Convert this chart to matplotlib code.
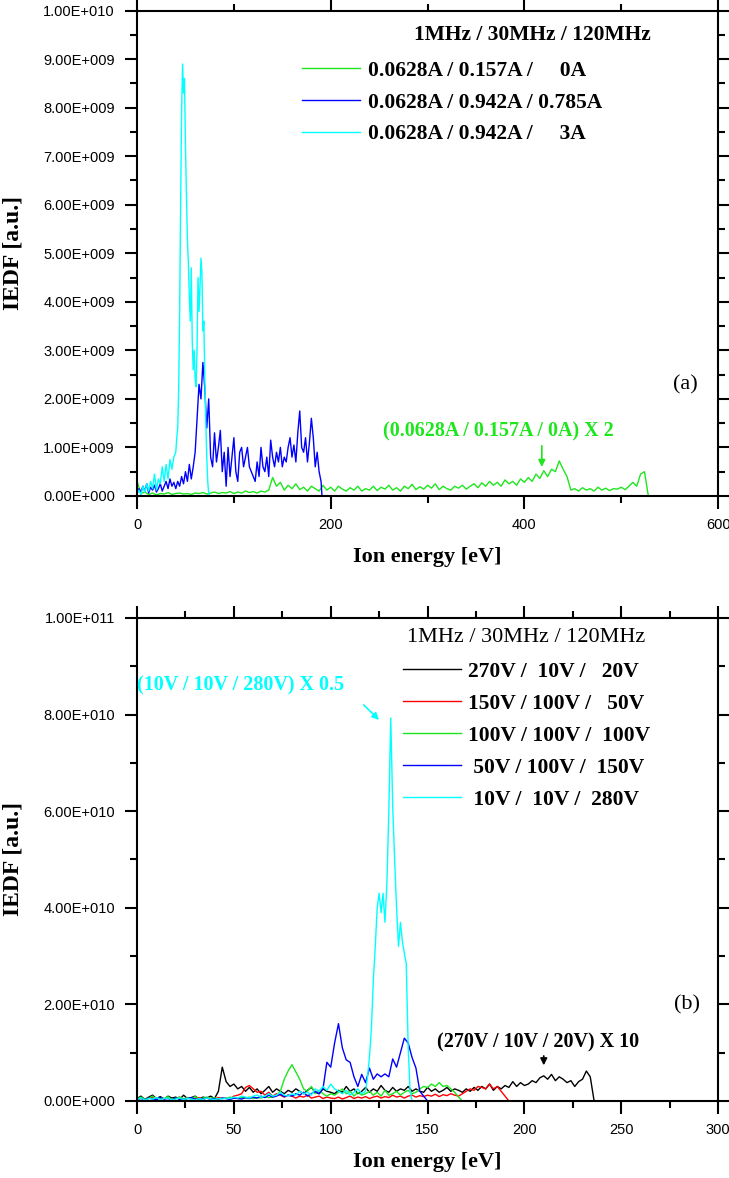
import numpy as np
import matplotlib.pyplot as plt
from matplotlib.ticker import MultipleLocator, FuncFormatter

# ---------------- panel (a): values in units of 1e9 ----------------
E_a_cian = [0, 2, 4, 6, 8, 10, 12, 14, 16, 18, 20, 22, 24, 26, 28, 30, 32, 34, 36, 38,
            40, 41, 42, 43, 44, 45, 46, 47, 48, 49, 50, 51, 52, 53, 54, 55, 56, 57, 58, 59,
            60, 61, 62, 63, 64, 65, 66, 67, 68, 69, 70, 71, 72, 73, 74, 75, 600]
V_a_cian = [0.05, 0.12, 0.02, 0.2, 0.08, 0.25, 0.1, 0.3, 0.15, 0.45, 0.12, 0.35, 0.25, 0.6, 0.3, 0.65, 0.35, 0.75, 0.55, 0.8,
            0.9, 1.2, 1.4, 2.2, 3.8, 6.0, 7.9, 8.9, 8.3, 8.6, 7.2, 6.2, 5.3, 4.8, 4.1, 3.6, 4.7, 3.2, 2.6, 3.0,
            2.4, 2.25, 3.1, 4.5, 3.8, 4.3, 4.9, 4.6, 3.4, 3.6, 2.4, 1.5, 0.8, 0.3, 0.05, 0.0, 0.0]

E_a_azul = [0, 2, 4, 6, 8, 10, 12, 14, 16, 18, 20, 22, 24, 26, 28, 30, 32, 34, 36, 38,
            40, 42, 44, 46, 48, 50, 52, 54, 56, 58, 60, 62, 64, 66, 68, 70, 72, 74, 76, 78,
            80, 82, 84, 86, 88, 90, 92, 94, 96, 98, 100, 102, 104, 106, 108, 110, 112, 114, 116, 118,
            120, 122, 124, 126, 128, 130, 132, 134, 136, 138, 140, 142, 144, 146, 148, 150, 152, 154, 156, 158,
            160, 162, 164, 166, 168, 170, 172, 174, 176, 178, 180, 182, 184, 186, 188, 190, 191]
V_a_azul = [0.05, 0.15, 0.08, 0.2, 0.1, 0.25, 0.06, 0.18, 0.12, 0.22, 0.08, 0.15, 0.25, 0.1, 0.2, 0.3, 0.15, 0.35, 0.2, 0.28,
            0.15, 0.3, 0.2, 0.4, 0.25, 0.5, 0.3, 0.65, 0.35, 0.6, 0.9, 1.6, 2.3, 2.0, 2.75, 2.2, 1.4, 2.0, 0.8, 0.6,
            1.3, 0.7, 1.0, 1.35, 0.5, 0.9, 0.2, 1.0, 0.4, 0.8, 1.2, 0.5, 0.3, 0.9, 1.0, 0.6, 0.8, 1.0, 0.6, 0.5,
            0.4, 0.3, 0.7, 0.4, 1.0, 0.6, 0.5, 0.8, 0.4, 1.15, 0.8, 0.6, 0.9, 0.7, 1.0, 0.6, 0.8, 0.7, 1.0, 1.2,
            0.8, 1.05, 0.7, 1.3, 1.75, 1.0, 0.9, 1.2, 0.7, 1.1, 1.6, 1.2, 0.6, 0.9, 0.5, 0.3, 0.0]

# canal de 4 eV
V_a_verde = [0.3, 0.05, 0.08, 0.03, 0.06, 0.02, 0.05, 0.04, 0.07, 0.03, 0.05, 0.06, 0.04, 0.05, 0.03, 0.06, 0.05, 0.07, 0.04, 0.06,
             0.08, 0.05, 0.07, 0.06, 0.09, 0.05, 0.08, 0.06, 0.1, 0.07, 0.09, 0.06, 0.1, 0.08, 0.12, 0.38, 0.2, 0.28, 0.12, 0.22,
             0.15, 0.25, 0.13, 0.18, 0.1, 0.2, 0.15, 0.1, 0.22, 0.12, 0.18, 0.1, 0.2, 0.14, 0.1, 0.17, 0.12, 0.2, 0.1, 0.15,
             0.12, 0.2, 0.11, 0.18, 0.14, 0.22, 0.12, 0.17, 0.1, 0.2, 0.15, 0.24, 0.13, 0.19, 0.14, 0.22, 0.16, 0.25, 0.13, 0.2,
             0.15, 0.12, 0.2, 0.16, 0.22, 0.14, 0.2, 0.25, 0.17, 0.27, 0.2, 0.3, 0.22, 0.28, 0.2, 0.33, 0.25, 0.3, 0.22, 0.35,
             0.28, 0.38, 0.3, 0.45, 0.36, 0.52, 0.4, 0.55, 0.5, 0.72, 0.55, 0.4, 0.12, 0.15, 0.1, 0.17, 0.12, 0.15, 0.1, 0.18,
             0.12, 0.16, 0.11, 0.15, 0.14, 0.18, 0.13, 0.2, 0.28, 0.2, 0.45, 0.5, 0.0]
E_a_verde = np.arange(len(V_a_verde)) * 4

# ---------------- panel (b): values in units of 1e10 ----------------
V_b_negro = [0.05, 0.1, 0.03, 0.08, 0.12, 0.05, 0.09, 0.04, 0.1, 0.06, 0.08, 0.03, 0.12, 0.05, 0.07, 0.1, 0.04, 0.08, 0.06, 0.1,
             0.05, 0.2, 0.7, 0.4, 0.3, 0.35, 0.25, 0.3, 0.2, 0.28, 0.18, 0.25, 0.15, 0.22, 0.3, 0.18, 0.25, 0.2, 0.15, 0.22,
             0.18, 0.25, 0.2, 0.15, 0.22, 0.28, 0.18, 0.15, 0.25, 0.2, 0.18, 0.15, 0.22, 0.18, 0.3, 0.2, 0.25, 0.15, 0.2, 0.28,
             0.18, 0.25, 0.2, 0.32, 0.22, 0.18, 0.28, 0.2, 0.25, 0.22, 0.3, 0.2, 0.25, 0.2, 0.18, 0.28, 0.2, 0.25, 0.18, 0.22,
             0.28, 0.2, 0.25, 0.22, 0.18, 0.25, 0.2, 0.28, 0.22, 0.3, 0.25, 0.35, 0.22, 0.3, 0.25, 0.32, 0.28, 0.4, 0.3, 0.38,
             0.32, 0.35, 0.42, 0.38, 0.48, 0.52, 0.45, 0.55, 0.42, 0.5, 0.45, 0.38, 0.42, 0.3, 0.4, 0.45, 0.62, 0.5, 0.0]
E_b_negro = np.arange(len(V_b_negro)) * 2

V_b_rojo = [0.03, 0.06, 0.02, 0.05, 0.08, 0.03, 0.06, 0.04, 0.07, 0.02, 0.05, 0.08, 0.03, 0.06, 0.04, 0.05, 0.07, 0.03, 0.06, 0.05,
            0.04, 0.07, 0.05, 0.06, 0.04, 0.1, 0.12, 0.15, 0.28, 0.32, 0.25, 0.18, 0.2, 0.12, 0.18, 0.1, 0.15, 0.12, 0.08, 0.12,
            0.1, 0.06, 0.1, 0.08, 0.12, 0.06, 0.08, 0.1, 0.05, 0.08, 0.06, 0.05, 0.08, 0.04, 0.07, 0.1, 0.05, 0.08, 0.06, 0.09,
            0.05, 0.08, 0.1, 0.06, 0.09, 0.07, 0.12, 0.08, 0.1, 0.06, 0.1, 0.12, 0.08, 0.11, 0.09, 0.12, 0.1, 0.14, 0.09, 0.13,
            0.11, 0.15, 0.12, 0.1, 0.15, 0.2, 0.25, 0.22, 0.3, 0.28, 0.25, 0.35, 0.25, 0.3, 0.2, 0.1, 0.0]
E_b_rojo = np.arange(len(V_b_rojo)) * 2

V_b_verde = [0.04, 0.08, 0.03, 0.06, 0.1, 0.04, 0.07, 0.05, 0.09, 0.03, 0.06, 0.08, 0.04, 0.07, 0.05, 0.09, 0.04, 0.06, 0.08, 0.05,
             0.07, 0.04, 0.06, 0.05, 0.08, 0.06, 0.05, 0.07, 0.06, 0.08, 0.05, 0.07, 0.06, 0.09, 0.07, 0.08, 0.12, 0.2, 0.45, 0.62,
             0.75, 0.6, 0.45, 0.25, 0.2, 0.3, 0.15, 0.22, 0.15, 0.1, 0.15, 0.12, 0.18, 0.25, 0.15, 0.2, 0.1, 0.18, 0.12, 0.15,
             0.2, 0.12, 0.18, 0.1, 0.22, 0.12, 0.15, 0.2, 0.12, 0.18, 0.22, 0.15, 0.18, 0.25, 0.3, 0.28, 0.35, 0.3, 0.38, 0.3,
             0.32, 0.25, 0.18, 0.08, 0.0]
E_b_verde = np.arange(len(V_b_verde)) * 2

V_b_azul = [0.03, 0.05, 0.02, 0.06, 0.04, 0.03, 0.07, 0.04, 0.05, 0.02, 0.06, 0.04, 0.03, 0.05, 0.07, 0.03, 0.05, 0.04, 0.06, 0.03,
            0.05, 0.04, 0.06, 0.05, 0.03, 0.06, 0.05, 0.04, 0.07, 0.05, 0.08, 0.06, 0.1, 0.07, 0.12, 0.08, 0.1, 0.14, 0.09, 0.12,
            0.1, 0.15, 0.12, 0.18, 0.1, 0.15, 0.2, 0.15, 0.25, 0.8, 0.7, 1.2, 1.6, 1.1, 0.85, 0.8, 0.5, 0.3, 0.55, 0.38,
            0.68, 0.45, 0.56, 0.5, 0.56, 0.5, 0.87, 0.7, 1.0, 1.3, 1.2, 0.9, 0.68, 0.2, 0.1, 0.0]
E_b_azul = np.arange(len(V_b_azul)) * 2

E_b_cian = [0, 2, 4, 6, 8, 10, 12, 14, 16, 18, 20, 22, 24, 26, 28, 30, 32, 34, 36, 38,
            40, 42, 44, 46, 48, 50, 52, 54, 56, 58, 60, 62, 64, 66, 68, 70, 72, 74, 76, 78,
            80, 82, 84, 86, 88, 90, 92, 94, 96, 98, 100, 102, 104, 106, 108, 110, 112, 114, 116, 118,
            119, 120, 121, 122, 123, 124, 125, 126, 127, 128, 129, 130, 131, 132, 133, 134, 135, 136, 137, 138,
            139, 140, 141, 142, 300]
V_b_cian = [0.03, 0.06, 0.02, 0.05, 0.04, 0.07, 0.03, 0.05, 0.06, 0.02, 0.04, 0.06, 0.03, 0.05, 0.04, 0.02, 0.05, 0.03, 0.06, 0.04,
            0.03, 0.05, 0.04, 0.06, 0.05, 0.08, 0.06, 0.1, 0.08, 0.06, 0.1, 0.12, 0.08, 0.1, 0.15, 0.1, 0.12, 0.18, 0.12, 0.1,
            0.15, 0.12, 0.2, 0.15, 0.18, 0.12, 0.25, 0.2, 0.3, 0.22, 0.35, 0.25, 0.2, 0.15, 0.22, 0.12, 0.18, 0.25, 0.15, 0.2,
            0.5, 0.9, 1.5, 2.5, 3.2, 4.0, 4.3, 3.9, 4.3, 3.7, 4.5, 6.0, 7.93, 6.1, 5.0, 4.0, 3.2, 3.7, 3.3, 3.06,
            2.85, 1.1, 0.2, 0.0, 0.0]

etiquetas_a = ["0.0628A / 0.157A /     0A",
               "0.0628A / 0.942A / 0.785A",
               "0.0628A / 0.942A /     3A"]
etiquetas_b = ["270V /  10V /   20V",
               "150V / 100V /   50V",
               "100V / 100V /  100V",
               " 50V / 100V /  150V",
               " 10V /  10V /  280V"]

VERDE = "#1ee61e"
AZUL = "#0000ff"
CIAN = "#00ffff"
ROJO = "#ff0000"

SERIF = "Liberation Serif"
SANS = "Liberation Sans"


def formato_e(v, pos):
    if v == 0:
        return "0.00E+000"
    exp = int(np.floor(np.log10(abs(v)) + 1e-9))
    man = v / 10 ** exp
    return f"{man:.2f}E+{exp:03d}"


def preparar_ejes(ax, xmax, xmay, xmen, ymax, ymay, ymen):
    ax.set_xlim(0, xmax)
    ax.set_ylim(0, ymax)
    ax.xaxis.set_major_locator(MultipleLocator(xmay))
    ax.xaxis.set_minor_locator(MultipleLocator(xmen))
    ax.yaxis.set_major_locator(MultipleLocator(ymay))
    ax.yaxis.set_minor_locator(MultipleLocator(ymen))
    ax.yaxis.set_major_formatter(FuncFormatter(formato_e))
    ax.tick_params(which="both", direction="out", top=True, right=True, width=1.5)
    ax.tick_params(which="major", length=9, pad=7, labelsize=10.5)
    ax.tick_params(which="minor", length=5)
    for lbl in ax.get_xticklabels() + ax.get_yticklabels():
        lbl.set_fontfamily(SANS)
    for s in ax.spines.values():
        s.set_linewidth(1.5)
    ax.set_xlabel("Ion energy [eV]", fontfamily=SERIF, fontweight="bold", fontsize=16, labelpad=11)
    ax.set_ylabel("IEDF [a.u.]", fontfamily=SERIF, fontweight="bold", fontsize=17, labelpad=14)


fig = plt.figure(figsize=(7.29, 11.78), dpi=100)
ax1 = fig.add_axes([0.188, 0.579, 0.797, 0.412])
ax2 = fig.add_axes([0.188, 0.0654, 0.797, 0.410])

# ---- (a) ----
ax1.plot(E_a_verde, np.array(V_a_verde) * 1e9, color=VERDE, lw=1.0, label=etiquetas_a[0])
ax1.plot(E_a_azul, np.array(V_a_azul) * 1e9, color=AZUL, lw=1.0, label=etiquetas_a[1])
ax1.plot(E_a_cian, np.array(V_a_cian) * 1e9, color=CIAN, lw=1.0, label=etiquetas_a[2])
preparar_ejes(ax1, 600, 200, 100, 1e10, 1e9, 5e8)

ax1.text(408, 9.5e9, "1MHz / 30MHz / 120MHz", fontfamily=SERIF, fontweight="bold",
         fontsize=15.5, ha="center", va="center")
leg1 = ax1.legend(loc="upper left", bbox_to_anchor=(0.284, 0.897), frameon=False,
                  handlelength=2.7, handletextpad=0.35, labelspacing=0.55,
                  borderpad=0, borderaxespad=0,
                  prop={"family": SERIF, "weight": "bold", "size": 15.5})
ax1.text(373, 1.32e9, "(0.0628A / 0.157A / 0A) X 2", color=VERDE, fontfamily=SERIF,
         fontweight="bold", fontsize=14.5, ha="center", va="center")
ax1.annotate("", xy=(418, 0.54e9), xytext=(418, 1.09e9),
             arrowprops=dict(arrowstyle="-|>", color=VERDE, lw=1.2, mutation_scale=10))
ax1.text(566, 2.29e9, "(a)", fontfamily=SERIF, fontsize=16, ha="center", va="center")

# ---- (b) ----
ax2.plot(E_b_negro, np.array(V_b_negro) * 1e10, color="black", lw=1.0, label=etiquetas_b[0])
ax2.plot(E_b_rojo, np.array(V_b_rojo) * 1e10, color=ROJO, lw=1.0, label=etiquetas_b[1])
ax2.plot(E_b_verde, np.array(V_b_verde) * 1e10, color=VERDE, lw=1.0, label=etiquetas_b[2])
ax2.plot(E_b_azul, np.array(V_b_azul) * 1e10, color=AZUL, lw=1.0, label=etiquetas_b[3])
ax2.plot(E_b_cian, np.array(V_b_cian) * 1e10, color=CIAN, lw=1.0, label=etiquetas_b[4])
preparar_ejes(ax2, 300, 50, 25, 1e11, 2e10, 1e10)

ax2.text(200.8, 9.6e10, "1MHz / 30MHz / 120MHz", fontfamily=SERIF,
         fontsize=16, ha="center", va="center")
leg2 = ax2.legend(loc="upper left", bbox_to_anchor=(0.458, 0.909), frameon=False,
                  handlelength=2.7, handletextpad=0.3, labelspacing=0.55,
                  borderpad=0, borderaxespad=0,
                  prop={"family": SERIF, "weight": "bold", "size": 15.5})
ax2.text(0, 8.6e10, "(10V / 10V / 280V) X 0.5", color=CIAN, fontfamily=SERIF,
         fontweight="bold", fontsize=14.5, ha="left", va="center")
ax2.annotate("", xy=(126, 7.85e10), xytext=(116, 8.24e10),
             arrowprops=dict(arrowstyle="-|>", color=CIAN, lw=1.2, mutation_scale=10))
ax2.text(207, 1.22e10, "(270V / 10V / 20V) X 10", fontfamily=SERIF,
         fontweight="bold", fontsize=14.5, ha="center", va="center")
ax2.annotate("", xy=(210, 0.68e10), xytext=(210, 0.99e10),
             arrowprops=dict(arrowstyle="-|>", color="black", lw=1.2, mutation_scale=10))
ax2.text(284, 2.0e10, "(b)", fontfamily=SERIF, fontsize=16, ha="center", va="center")

fig.savefig("out.png", dpi=100)
